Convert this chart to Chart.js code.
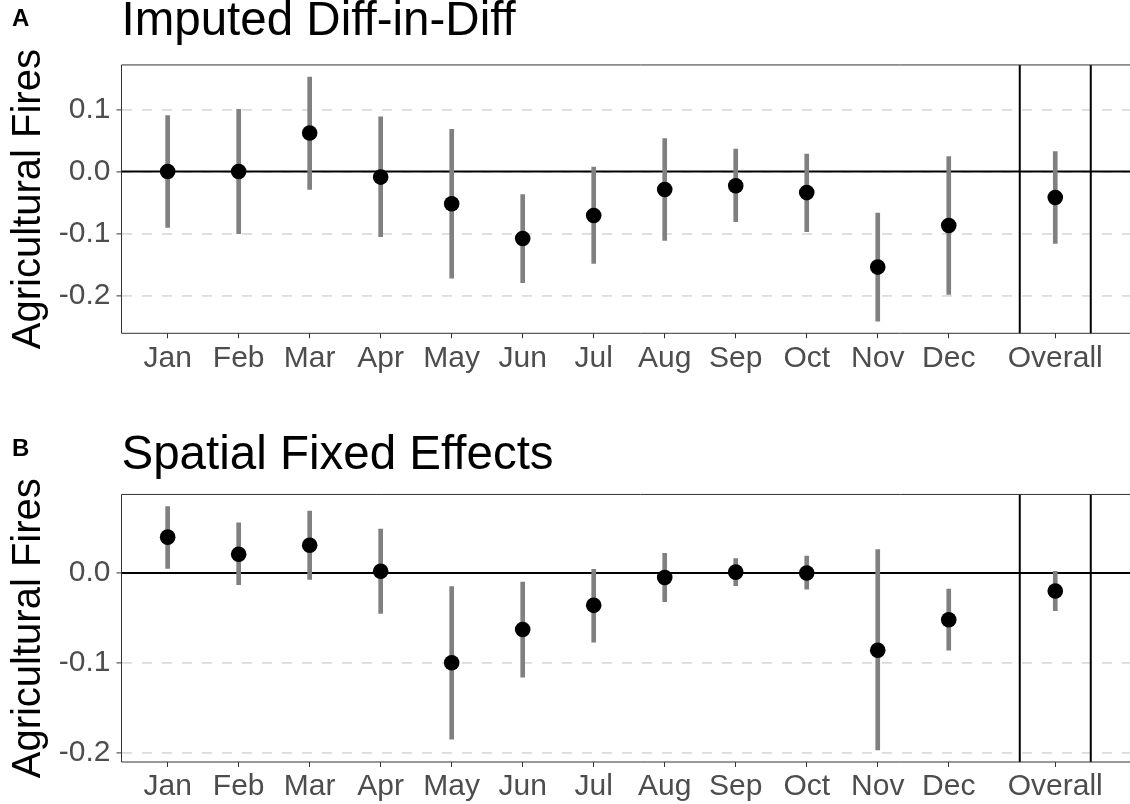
<!DOCTYPE html>
<html>
<head>
<meta charset="utf-8">
<script src="https://cdn.jsdelivr.net/npm/chart.js@4.4.1/dist/chart.umd.min.js"></script>
<style>
  html, body { margin: 0; padding: 0; background: #ffffff; overflow: hidden; width: 1130px; height: 804px; }
  .panel { position: absolute; left: 0; width: 1130px; height: 402px; overflow: hidden; }
  #wrapA { top: 0; }
  #wrapB { top: 402px; }
  canvas { display: block; }
</style>
</head>
<body>
<div class="panel" id="wrapA"><canvas id="chartA" width="1160" height="402"></canvas></div>
<div class="panel" id="wrapB"><canvas id="chartB" width="1160" height="402"></canvas></div>
<script>
// Category labels and their positions on the x axis (Overall sits in its own box)
const months = ['Jan', 'Feb', 'Mar', 'Apr', 'May', 'Jun', 'Jul', 'Aug', 'Sep', 'Oct', 'Nov', 'Dec', 'Overall'];
const positions = [1, 2, 3, 4, 5, 6, 7, 8, 9, 10, 11, 12, 13.5];
const separators = [13, 14];
const yTickValues = [-0.2, -0.1, 0.0, 0.1];

// Panel A: imputed difference-in-differences estimates with 95% intervals
const didEst = [0.000, 0.000, 0.062, -0.009, -0.052, -0.108, -0.071, -0.029, -0.023, -0.034, -0.154, -0.087, -0.042];
const didLo  = [-0.090, -0.100, -0.029, -0.105, -0.172, -0.179, -0.148, -0.111, -0.081, -0.097, -0.241, -0.198, -0.116];
const didHi  = [0.090, 0.100, 0.152, 0.088, 0.068, -0.037, 0.007, 0.053, 0.036, 0.028, -0.067, 0.024, 0.032];

// Panel B: spatial fixed effects estimates with 95% intervals
const sfeEst = [0.040, 0.021, 0.031, 0.002, -0.100, -0.063, -0.036, -0.005, 0.001, 0.000, -0.086, -0.052, -0.020];
const sfeLo  = [0.005, -0.013, -0.007, -0.045, -0.185, -0.116, -0.077, -0.032, -0.014, -0.018, -0.197, -0.086, -0.042];
const sfeHi  = [0.074, 0.056, 0.069, 0.049, -0.015, -0.010, 0.004, 0.022, 0.016, 0.019, 0.026, -0.018, 0.002];

const FONT = "'Liberation Sans', Arial, Helvetica, sans-serif";
// x range: 1..14 padded by 5%, right side continues past the visible edge
const X_MIN = 0.35;
const X_MAX = 14.975;

// Reference lines (y = 0, the box around Overall) and the panel frame
const framePlugin = {
  id: 'frame',
  beforeDatasetsDraw(chart) {
    const { ctx, chartArea: a, scales: { x, y } } = chart;
    ctx.save();
    ctx.strokeStyle = '#000000';
    ctx.lineWidth = 2;
    const y0 = y.getPixelForValue(0);
    ctx.beginPath();
    ctx.moveTo(a.left, y0);
    ctx.lineTo(a.right, y0);
    ctx.stroke();
    separators.forEach(v => {
      const px = x.getPixelForValue(v);
      ctx.beginPath();
      ctx.moveTo(px, a.top);
      ctx.lineTo(px, a.bottom);
      ctx.stroke();
    });
    ctx.restore();
  },
  afterDraw(chart, args, opts) {
    const { ctx, chartArea: a } = chart;
    ctx.save();
    ctx.strokeStyle = '#333333';
    ctx.lineWidth = 1;
    ctx.beginPath();
    ctx.moveTo(a.right, a.top);
    ctx.lineTo(a.left, a.top);
    ctx.lineTo(a.left, a.bottom);
    ctx.lineTo(a.right, a.bottom);
    ctx.stroke();
    ctx.fillStyle = '#000000';
    ctx.font = 'bold 24px ' + FONT;
    ctx.textBaseline = 'middle';
    ctx.textAlign = 'left';
    ctx.fillText(opts.tag, 12, opts.tagY);
    ctx.restore();
  }
};

function expandRange(lo, hi) {
  const mn = Math.min(...lo), mx = Math.max(...hi);
  const pad = (mx - mn) * 0.05;
  return [mn - pad, mx + pad];
}

function makeChart(id, tag, tagY, title, titlePad, est, lo, hi, xAxisHeight) {
  const [yMin, yMax] = expandRange(lo, hi);
  const bars = positions.map((p, i) => ({ x: p, y: [lo[i], hi[i]] }));
  const points = positions.map((p, i) => ({ x: p, y: est[i] }));
  return new Chart(document.getElementById(id), {
    type: 'bar',
    data: {
      datasets: [
        {
          type: 'scatter',
          data: points,
          pointRadius: 7.8,
          pointHoverRadius: 7.8,
          pointBackgroundColor: '#000000',
          pointBorderWidth: 0,
          order: 0
        },
        {
          type: 'bar',
          data: bars,
          backgroundColor: '#808080',
          borderWidth: 0,
          barThickness: 4,
          order: 1
        }
      ]
    },
    options: {
      responsive: false,
      animation: false,
      events: [],
      layout: { padding: 0, autoPadding: false },
      plugins: {
        legend: { display: false },
        tooltip: { enabled: false },
        title: {
          display: true,
          text: title,
          align: 'start',
          fullSize: false,
          color: '#000000',
          font: { family: FONT, size: 47.5, weight: 'normal', lineHeight: 0.9 },
          padding: titlePad
        },
        frame: { tag: tag, tagY: tagY }
      },
      scales: {
        x: {
          type: 'linear',
          min: X_MIN,
          max: X_MAX,
          offset: false,
          afterBuildTicks: s => { s.ticks = positions.map(v => ({ value: v })); },
          afterFit: s => { s.height = xAxisHeight; },
          ticks: {
            autoSkip: false,
            maxRotation: 0,
            color: '#4d4d4d',
            font: { family: FONT, size: 30 },
            padding: 2,
            callback: (v, i) => months[i]
          },
          grid: { offset: false, drawOnChartArea: false, drawTicks: true, tickLength: 5, tickColor: '#333333', tickWidth: 1 },
          border: { display: false }
        },
        y: {
          type: 'linear',
          min: yMin,
          max: yMax,
          afterBuildTicks: s => { s.ticks = yTickValues.filter(v => v >= s.min && v <= s.max).map(v => ({ value: v })); },
          afterFit: s => { s.width = 121.5; },
          ticks: {
            color: '#4d4d4d',
            font: { family: FONT, size: 30 },
            padding: 6,
            callback: v => (Math.abs(v) < 1e-9 ? 0 : v).toFixed(1)
          },
          grid: { color: '#dcdcdc', lineWidth: 1.8, drawTicks: true, tickLength: 5, tickColor: '#333333', tickWidth: 1 },
          border: { display: false, dash: [10, 10] },
          title: {
            display: true,
            text: 'Agricultural Fires',
            color: '#000000',
            font: { family: FONT, size: 40 },
            padding: { top: 5, bottom: 0 }
          }
        }
      }
    },
    plugins: [framePlugin]
  });
}

makeChart('chartA', 'A', 19, 'Imputed Diff-in-Diff', { top: 0.5, bottom: 21.7 }, didEst, didLo, didHi, 68.7);
makeChart('chartB', 'B', 47, 'Spatial Fixed Effects', { top: 32.5, bottom: 17.2 }, sfeEst, sfeLo, sfeHi, 42);
</script>
</body>
</html>
